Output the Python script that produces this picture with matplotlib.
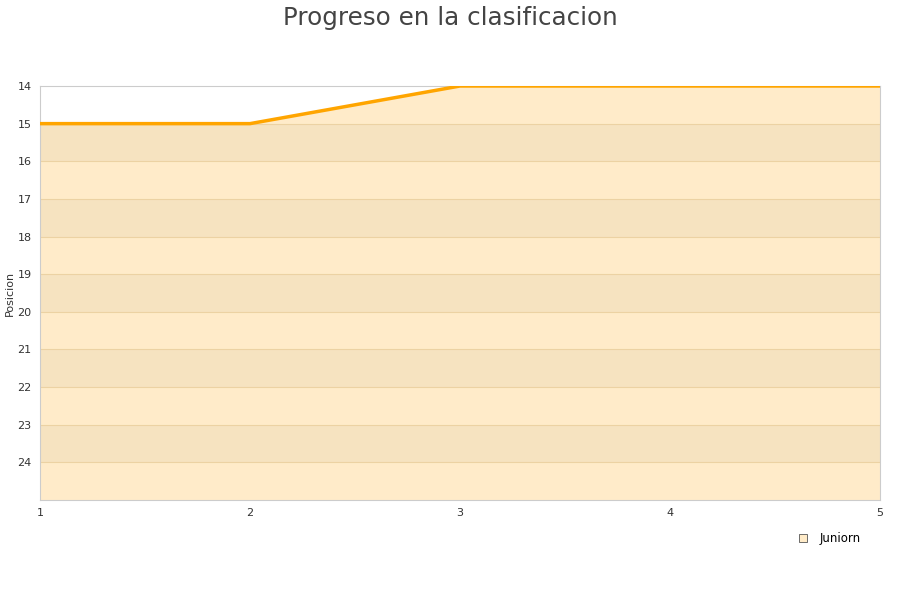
import matplotlib.pyplot as plt
from matplotlib.lines import Line2D

jornadas = [1, 2, 3, 4, 5]
posicion = [15, 15, 14, 14, 14]
serie = "Juniorn"

fig = plt.figure(figsize=(9, 6), dpi=100)
ax = fig.add_axes([40 / 900, 100 / 600, 840 / 900, 414 / 600])

# alternating background bands
for y0 in range(14, 25):
    if (y0 - 14) % 2 == 1:
        ax.axhspan(y0, y0 + 1, color='#F4F4F4', zorder=0, lw=0)
for y0 in range(15, 25):
    ax.axhline(y0, color='#E8DFCF', lw=0.8, zorder=1)

ax.fill_between(jornadas, posicion, 25, color='#FFA500', alpha=0.21, lw=0, zorder=2)
ax.plot(jornadas, posicion, color='#FFA500', lw=2.5, zorder=3)

ax.set_xlim(1, 5)
ax.set_ylim(25, 14)
ax.set_xticks(jornadas)
ax.set_yticks(range(14, 25))
ax.tick_params(length=0, labelsize=8, colors='#333333', pad=6)
for s in ax.spines.values():
    s.set_color('#CCCCCC')
ax.set_ylabel("Posicion", fontsize=8, color='#333333', labelpad=2)

fig.suptitle("Progreso en la clasificacion", fontsize=17.7, color='#444444', y=0.99)

h = Line2D([], [], marker='s', ls='', markersize=6, markerfacecolor='#FFEBC8',
           markeredgecolor='#555555', markeredgewidth=0.6)
fig.legend([h], [serie], loc='center right', bbox_to_anchor=(0.968, 0.103),
           frameon=False, fontsize=8.5, handletextpad=0.4)

fig.savefig("out.png", dpi=100)
